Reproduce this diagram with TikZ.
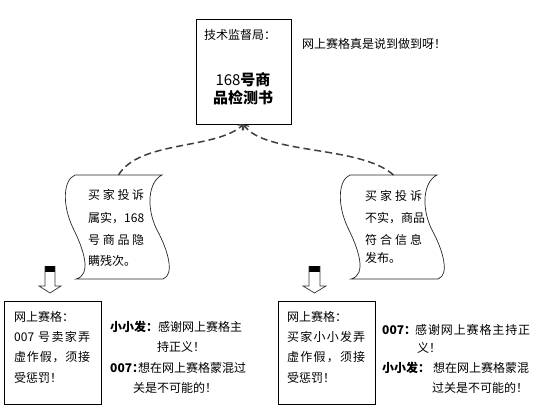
\documentclass[tikz,border=0pt]{standalone}
\usepackage{fontspec}
\setmainfont{Noto Sans CJK SC}
\usetikzlibrary{arrows.meta}
\makeatletter
\newcommand\spreadline[2]{\hbox to #1{\let\jsep\relax\@tfor\jc:=#2\do{\jsep\jc\let\jsep\hfil}}}
\makeatother
\tikzset{
  every node/.style={inner sep=0pt, font=\fontsize{12}{14}\selectfont},
  boxnode/.style={draw=black, line width=0.9pt, fill=white},
  lt/.style={anchor=west},
  bigtxt/.style={font=\fontsize{15}{17}\selectfont},
  docline/.style={draw=black!85, line width=0.7pt},
  dconn/.style={draw=black!75, line width=1.5pt, dash pattern=on 7pt off 4pt, -{Straight Barb[length=4pt,width=7pt,line width=1.1pt]}},
  blockarrow/.style={draw=black!80, line width=0.7pt}
}
\begin{document}
\begin{tikzpicture}[x=1pt,y=-1pt]
\useasboundingbox (0,0) rectangle (536,419);
\fill[white] (0,0) rectangle (536,419);

% top box
\node[boxnode, minimum width=95pt, minimum height=105pt] (top) at (243.5,71.5) {};
\node (t1) at (240,35) {技术监督局：};
\node[bigtxt] (t2) at (243,80) {168\textbf{号商}};
\node[bigtxt] (t3) at (243,98) {\textbf{品检测书}};
\node[lt] (t4) at (302,44) {网上赛格真是说到做到呀！};

% document shapes
\begin{scope}[shift={(75,175)}]
\draw[docline] (0,0) -- (87,0) .. controls (73,7) and (71,33) .. (82,55) .. controls (93,75) and (100,100) .. (88,104) -- (1,104) .. controls (17,100) and (9,75) .. (-2,53) .. controls (-13,30) and (-12,5) .. cycle;
\end{scope}
\begin{scope}[shift={(350,175)}]
\draw[docline] (0,0) -- (87,0) .. controls (73,7) and (71,33) .. (82,55) .. controls (93,75) and (100,100) .. (88,104) -- (1,104) .. controls (17,100) and (9,75) .. (-2,53) .. controls (-13,30) and (-12,5) .. cycle;
\end{scope}
\coordinate (ld) at (118.5,175);
\coordinate (rd) at (393.5,175);

\node[lt] (l1) at (88,195) {\spreadline{56pt}{买家投诉}};
\node[lt] (l2) at (88,218) {\spreadline{56pt}{属实，{168}}};
\node[lt] (l3) at (88,240) {\spreadline{56pt}{号商品隐}};
\node[lt] (l4) at (88,261) {瞒残次。};

\node[lt] (r1) at (365,196) {\spreadline{57pt}{买家投诉}};
\node[lt] (r2) at (365,218) {\spreadline{57pt}{不实，商品}};
\node[lt] (r3) at (365,240) {\spreadline{57pt}{符合信息}};
\node[lt] (r4) at (365,258) {发布。};

% dashed connectors
\draw[dconn] (ld) .. controls (140,140) and (215,150) .. (top.south);
\draw[dconn] (rd) .. controls (360,145) and (265,155) .. (top.south);

% block arrows
\fill[black] (45,266) rectangle (55,272);
\draw[blockarrow] (45,266) -- (45,286) -- (39,286) -- (50,293) -- (61,286) -- (55,286) -- (55,266);
\fill[black] (309,266) rectangle (320,272);
\draw[blockarrow] (309,266) -- (309,286) -- (303,286) -- (314.5,293) -- (326,286) -- (320,286) -- (320,266);

% bottom boxes
\node[boxnode, minimum width=97pt, minimum height=103pt] (bl) at (52.5,352.5) {};
\node[lt] (bl1) at (14,317) {网上赛格：};
\node[lt] (bl2) at (14,337) {\spreadline{76pt}{{007\ }号卖家弄}};
\node[lt] (bl3) at (14,357) {\spreadline{76pt}{虚作假，须接}};
\node[lt] (bl4) at (14,378) {受惩罚！};

\node[boxnode, minimum width=97pt, minimum height=103pt] (br) at (326.5,352.5) {};
\node[lt] (br1) at (287,317) {网上赛格：};
\node[lt] (br2) at (287,337) {\spreadline{78pt}{买家小小发弄}};
\node[lt] (br3) at (287,357) {\spreadline{78pt}{虚作假，须接}};
\node[lt] (br4) at (287,378) {受惩罚！};

% dialogues left
\node[lt] (ln1) at (110,327) {\textbf{小小发：}};
\node[lt] (lx1) at (158,327) {感谢网上赛格主};
\node[lt] (lx2) at (157,347) {持正义！};
\node[lt] (ln2) at (110,368) {\textbf{007：}};
\node[lt] (lx3) at (138,368) {想在网上赛格蒙混过};
\node[lt] (lx4) at (133,388) {关是不可能的！};

% dialogues right
\node[lt] (rn1) at (382,330) {\textbf{007：}};
\node[lt] (rx1) at (415,330) {\spreadline{115pt}{感谢网上赛格主持正}};
\node[lt] (rx2) at (417,348) {义！};
\node[lt] (rn2) at (382,368) {\textbf{小小发：}};
\node[lt] (rx3) at (433,368) {想在网上赛格蒙混};
\node[lt] (rx4) at (432,388) {过关是不可能的！};
\end{tikzpicture}
\end{document}
